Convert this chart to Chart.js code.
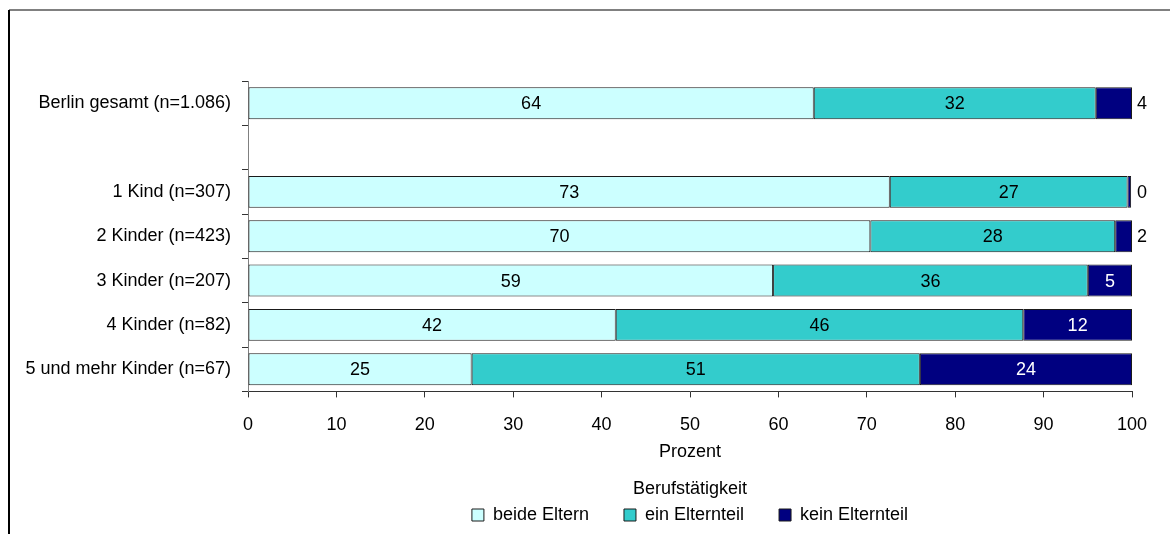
<!DOCTYPE html>
<html lang="de">
<head>
  <meta charset="UTF-8" />
  <title>Berufstätigkeit nach Kinderzahl</title>
  <script src="https://cdn.jsdelivr.net/npm/chart.js"></script>
  <style>
    html, body { margin: 0; padding: 0; background: #fff; }
    #wrap { width: 1170px; height: 534px; }
  </style>
</head>
<body>
  <div id="wrap"><canvas id="chart" width="1170" height="534"></canvas></div>

  <script>
    const categories = ['Berlin gesamt (n=1.086)', '', '1 Kind (n=307)', '2 Kinder (n=423)',
      '3 Kinder (n=207)', '4 Kinder (n=82)', '5 und mehr Kinder (n=67)'];
    const seriesNames = ['beide Eltern', 'ein Elternteil', 'kein Elternteil'];
    const beideEltern = [64.0, null, 72.6, 70.4, 59.4, 41.6, 25.3];
    const einElternteil = [31.9, null, 26.9, 27.7, 35.6, 46.1, 50.7];
    const keinElternteil = [4.1, null, 0.4, 1.9, 5.0, 12.3, 24.0];
    const xTicks = [0, 10, 20, 30, 40, 50, 60, 70, 80, 90, 100];

    const colors = ['#CCFFFF', '#33CCCC', '#000080'];
    const labelColors = ['#000', '#000', '#fff'];
    const FONT = "Arial, 'Liberation Sans', sans-serif";
    const FS = 18;

    // frame line around the chart (top + left, the rest is cut off)
    const framePlugin = {
      id: 'frame',
      beforeDraw(chart) {
        const c = chart.ctx;
        c.save();
        c.fillStyle = '#fff';
        c.fillRect(0, 0, chart.width, chart.height);
        c.fillStyle = '#808080';
        c.fillRect(9, 9, chart.width - 9, 2);
        c.fillStyle = '#000';
        c.fillRect(8, 10, 2, chart.height - 10);
        c.restore();
      }
    };

    // value labels on the bars; tiny segments get the label right of the bar
    const valuePlugin = {
      id: 'values',
      afterDatasetsDraw(chart) {
        const c = chart.ctx;
        c.save();
        c.font = FS + 'px ' + FONT;
        c.textBaseline = 'middle';
        chart.data.datasets.forEach((ds, di) => {
          const meta = chart.getDatasetMeta(di);
          meta.data.forEach((bar, i) => {
            const v = ds.data[i];
            if (v === null || v === undefined) return;
            const txt = String(Math.round(v));
            if (v >= 4.5) {
              c.fillStyle = labelColors[di];
              c.textAlign = 'center';
              c.fillText(txt, (bar.x + bar.base) / 2, bar.y + 1);
            } else if (di === 2) {
              c.fillStyle = '#000';
              c.textAlign = 'left';
              c.fillText(txt, chart.chartArea.right + 5, bar.y + 1);
            }
          });
        });
        c.restore();
      }
    };

    const ctx = document.getElementById('chart').getContext('2d');
    new Chart(ctx, {
      type: 'bar',
      data: {
        labels: categories,
        datasets: [beideEltern, einElternteil, keinElternteil].map((d, i) => ({
          label: seriesNames[i],
          data: d,
          backgroundColor: colors[i],
          borderColor: '#1a1a1a',
          borderWidth: 1,
          borderSkipped: false,
          categoryPercentage: 1.0,
          barPercentage: 0.72
        }))
      },
      options: {
        indexAxis: 'y',
        responsive: false,
        animation: false,
        layout: { padding: { top: 81, right: 38, bottom: 0, left: 0 } },
        scales: {
          x: {
            stacked: true,
            min: 0,
            max: 100,
            afterBuildTicks(s) { s.ticks = xTicks.map(v => ({ value: v })); },
            afterFit(s) { s.height = 87; },
            grid: { display: true, drawOnChartArea: false, drawTicks: true, tickLength: 6, color: '#333' },
            border: { display: true, color: '#333', width: 1 },
            ticks: { color: '#000', font: { size: FS, family: FONT }, padding: 17, maxRotation: 0 },
            title: { display: true, text: 'Prozent', color: '#000', font: { size: FS, family: FONT }, padding: { top: 0, bottom: 16 } }
          },
          y: {
            stacked: true,
            afterFit(s) { s.width = 248; },
            grid: { display: true, drawOnChartArea: false, drawTicks: true, tickLength: 6, color: '#333', offset: true },
            border: { display: true, color: '#808080', width: 1 },
            ticks: { color: '#000', font: { size: FS, family: FONT }, padding: 11, autoSkip: false }
          }
        },
        plugins: {
          legend: {
            position: 'bottom',
            fullSize: false,
            labels: {
              color: '#000',
              font: { size: FS, family: FONT },
              boxWidth: 12,
              boxHeight: 12,
              padding: 35
            },
            title: {
              display: true,
              text: 'Berufstätigkeit',
              color: '#000',
              font: { size: FS, family: FONT },
              padding: { top: 2, bottom: -31 }
            }
          },
          tooltip: { enabled: false }
        }
      },
      plugins: [framePlugin, valuePlugin]
    });
  </script>
</body>
</html>
